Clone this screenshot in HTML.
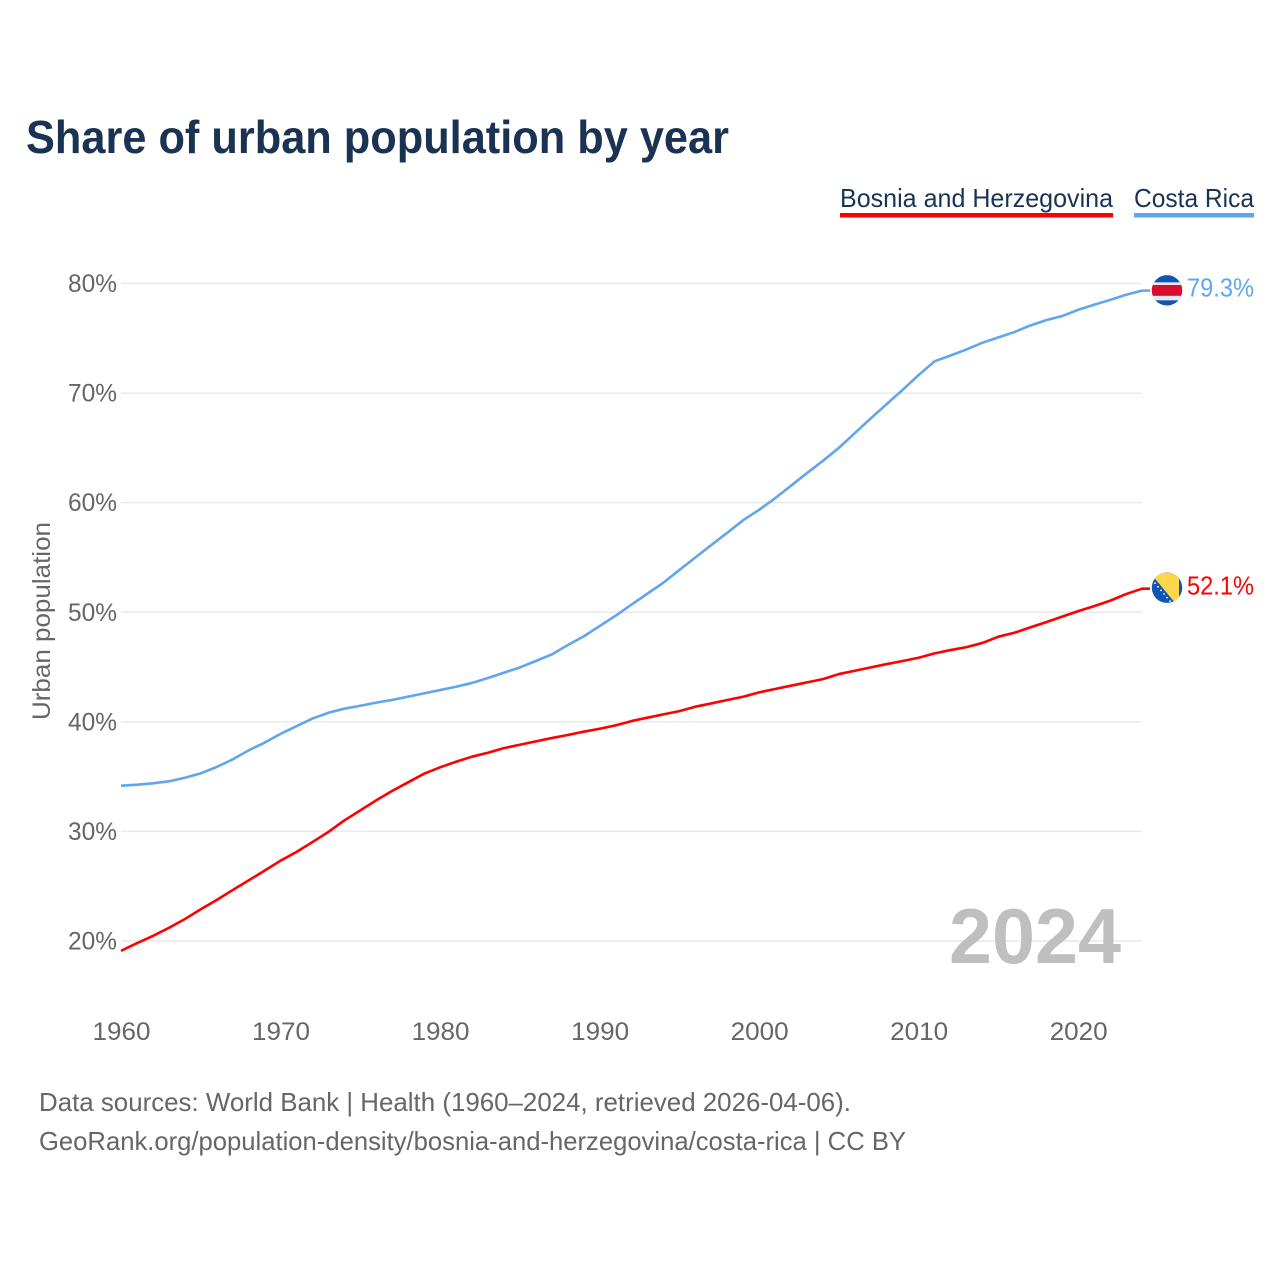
<!DOCTYPE html>
<html lang="en">
<head>
<meta charset="utf-8">
<title>Share of urban population by year</title>
<style>
html,body{margin:0;padding:0;background:#fff;width:1280px;height:1280px;overflow:hidden}
svg{display:block;font-family:"Liberation Sans",sans-serif}
</style>
</head>
<body>
<svg id="chart" width="1280" height="1280" viewBox="0 0 1280 1280" xmlns="http://www.w3.org/2000/svg">
  <rect width="1280" height="1280" fill="#fff"/>
  <text x="26" y="153" font-size="46" font-weight="700" fill="#1a3353" textLength="703" lengthAdjust="spacingAndGlyphs">Share of urban population by year</text>

  <g>
    <g>
      <text x="840" y="207" font-size="26" fill="#1a3353" textLength="273" lengthAdjust="spacingAndGlyphs">Bosnia and Herzegovina</text>
      <rect x="840" y="213" width="273" height="4.5" fill="#ff0000"/>
    </g>
    <g>
      <text x="1134" y="207" font-size="26" fill="#1a3353" textLength="120" lengthAdjust="spacingAndGlyphs">Costa Rica</text>
      <rect x="1134" y="213" width="120" height="4.5" fill="#60a5ee"/>
    </g>
  </g>

  <g id="grid"></g>
  <g id="yticks"></g>
  <g id="xticks"></g>

  <text transform="translate(50,621) rotate(-90)" text-anchor="middle" font-size="25" fill="#666666" textLength="198" lengthAdjust="spacingAndGlyphs">Urban population</text>

  <text x="1121" y="963" text-anchor="end" font-size="78" font-weight="700" fill="#bfbfbf" textLength="172" lengthAdjust="spacingAndGlyphs">2024</text>

  <g id="series"></g>

  <defs>
    <clipPath id="flag-clip"><circle cx="0" cy="0" r="15.2"/></clipPath>
  </defs>
  <g id="flag-cr">
    <g clip-path="url(#flag-clip)">
      <rect x="-16" y="-16" width="32" height="32" fill="#0f55b5"/>
      <rect x="-16" y="-8" width="32" height="18" fill="#e8e8ee"/>
      <rect x="-16" y="-5.3" width="32" height="10.8" fill="#dc0a2c"/>
    </g>
  </g>
  <g id="flag-ba">
    <g clip-path="url(#flag-clip)">
      <rect x="-16" y="-16" width="32" height="32" fill="#0f55b5"/>
      <polygon points="-17,-15 12,-15 12,20" fill="#ffd54a"/>
      <g fill="#ffffff">
        <circle cx="-12" cy="-4.5" r="0.9"/>
        <circle cx="-9" cy="-0.9" r="0.9"/>
        <circle cx="-6" cy="2.7" r="0.9"/>
        <circle cx="-3" cy="6.3" r="0.9"/>
        <circle cx="0" cy="9.9" r="0.9"/>
        <circle cx="3" cy="13.5" r="0.9"/>
      </g>
    </g>
  </g>

  <g>
    <text x="39" y="1111" font-size="26" fill="#666666" textLength="812" lengthAdjust="spacingAndGlyphs">Data sources: World Bank | Health (1960–2024, retrieved 2026-04-06).</text>
    <text x="39" y="1150" font-size="26" fill="#666666" textLength="867" lengthAdjust="spacingAndGlyphs">GeoRank.org/population-density/bosnia-and-herzegovina/costa-rica | CC BY</text>
  </g>
</svg>

<script>
const years = [1960,1961,1962,1963,1964,1965,1966,1967,1968,1969,1970,1971,1972,1973,1974,1975,1976,1977,1978,1979,1980,1981,1982,1983,1984,1985,1986,1987,1988,1989,1990,1991,1992,1993,1994,1995,1996,1997,1998,1999,2000,2001,2002,2003,2004,2005,2006,2007,2008,2009,2010,2011,2012,2013,2014,2015,2016,2017,2018,2019,2020,2021,2022,2023,2024];
const bosniaValues = [19.1,19.8,20.46,21.2,22.0,22.9,23.74,24.65,25.53,26.42,27.33,28.12,29.03,29.95,31.0,31.92,32.84,33.7,34.48,35.27,35.85,36.36,36.82,37.18,37.6,37.91,38.22,38.52,38.8,39.1,39.37,39.68,40.07,40.38,40.68,40.98,41.38,41.68,41.99,42.29,42.69,43.0,43.3,43.6,43.9,44.36,44.66,44.97,45.27,45.55,45.85,46.25,46.55,46.82,47.2,47.77,48.13,48.62,49.1,49.6,50.1,50.56,51.05,51.66,52.15];
const costaRicaValues = [34.17,34.26,34.39,34.57,34.9,35.3,35.88,36.57,37.4,38.1,38.9,39.6,40.3,40.83,41.2,41.47,41.75,42.0,42.3,42.6,42.9,43.2,43.55,44.0,44.48,44.96,45.55,46.15,47.0,47.8,48.74,49.68,50.7,51.7,52.7,53.85,55.0,56.13,57.25,58.4,59.35,60.4,61.55,62.7,63.82,65.0,66.35,67.7,69.0,70.3,71.65,72.9,73.43,73.98,74.6,75.08,75.57,76.17,76.66,77.03,77.6,78.06,78.5,78.97,79.35];
const yTickValues = [20,30,40,50,60,70,80];
const yTickLabels = ["20%","30%","40%","50%","60%","70%","80%"];
const xTickValues = [1960,1970,1980,1990,2000,2010,2020];
const xTickLabels = ["1960","1970","1980","1990","2000","2010","2020"];
const bosniaLabel = "52.1%";
const costaRicaLabel = "79.3%";

const NS = "http://www.w3.org/2000/svg";
const plotLeft = 121, plotRight = 1142;
const xScale = function (year) { return plotLeft + (year - 1960) * (plotRight - plotLeft) / 64; };
const yScale = function (value) { return 941 - (value - 20) * (941 - 283.5) / 60; };

function make(tag, attrs, text) {
  const el = document.createElementNS(NS, tag);
  for (const k in attrs) el.setAttribute(k, attrs[k]);
  if (text !== undefined) el.textContent = text;
  return el;
}

const gridGroup = document.getElementById("grid");
const yGroup = document.getElementById("yticks");
yTickValues.forEach(function (v, i) {
  const y = yScale(v);
  const line = make("line", {x1: plotLeft, x2: plotRight, y1: y, y2: y, stroke: "#e9e9e9", "stroke-width": 1.5});
  
  
  gridGroup.appendChild(line);
  const label = make("text", {x: 117, y: y + 8.5, "text-anchor": "end", "font-size": 25, fill: "#666666", textLength: 49, lengthAdjust: "spacingAndGlyphs"}, yTickLabels[i]);
  
  
  yGroup.appendChild(label);
});

const xGroup = document.getElementById("xticks");
xTickValues.forEach(function (v, i) {
  const label = make("text", {x: xScale(v) + 0.5, y: 1040, "text-anchor": "middle", "font-size": 25, fill: "#666666", textLength: 58, lengthAdjust: "spacingAndGlyphs"}, xTickLabels[i]);
  
  
  xGroup.appendChild(label);
});

function pathFor(values) {
  let d = "";
  values.forEach(function (v, i) {
    d += (i ? "L" : "M") + xScale(years[i]).toFixed(2) + " " + yScale(v).toFixed(2);
  });
  const last = values[values.length - 1];
  d += "L" + (xScale(years[years.length - 1]) + 8).toFixed(2) + " " + yScale(last).toFixed(2);
  return d;
}

const seriesGroup = document.getElementById("series");

const costaRicaLine = make("path", {d: pathFor(costaRicaValues), fill: "none", stroke: "#60a5ee", "stroke-width": 2.6, "stroke-linejoin": "round"});


seriesGroup.appendChild(costaRicaLine);

const bosniaLine = make("path", {d: pathFor(bosniaValues), fill: "none", stroke: "#ff0000", "stroke-width": 2.6, "stroke-linejoin": "round"});


seriesGroup.appendChild(bosniaLine);

const endX = xScale(years[years.length - 1]);
const crEndY = yScale(costaRicaValues[costaRicaValues.length - 1]);
const baEndY = yScale(bosniaValues[bosniaValues.length - 1]);
document.getElementById("flag-cr").setAttribute("transform", "translate(" + (endX + 25) + "," + (crEndY - 0.3) + ")");
document.getElementById("flag-ba").setAttribute("transform", "translate(" + (endX + 25) + "," + (baEndY - 1) + ")");

const crLabel = make("text", {x: 1254, y: crEndY + 6, "text-anchor": "end", "font-size": 26, fill: "#60a5ee", textLength: 67, lengthAdjust: "spacingAndGlyphs"}, costaRicaLabel);


seriesGroup.appendChild(crLabel);

const baLabel = make("text", {x: 1254, y: baEndY + 6, "text-anchor": "end", "font-size": 26, fill: "#ff0000", textLength: 67, lengthAdjust: "spacingAndGlyphs"}, bosniaLabel);


seriesGroup.appendChild(baLabel);
</script>
</body>
</html>
